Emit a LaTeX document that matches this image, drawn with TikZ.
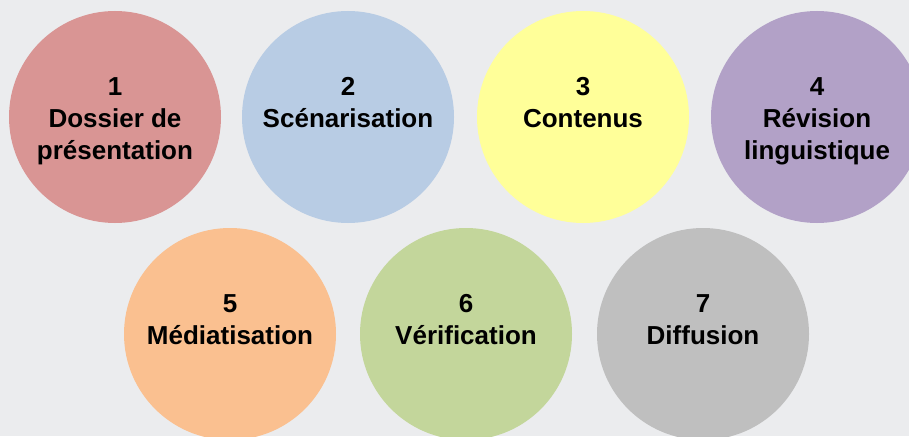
\documentclass[tikz,border=0pt]{standalone}
\usepackage{fontspec}
\setmainfont{Liberation Sans}
\definecolor{bgrey}{RGB}{235, 236, 238}
\definecolor{step1}{RGB}{217, 149, 148}
\definecolor{step2}{RGB}{184, 204, 228}
\definecolor{step3}{RGB}{255, 255, 153}
\definecolor{step4}{RGB}{178, 161, 199}
\definecolor{step5}{RGB}{250, 192, 144}
\definecolor{step6}{RGB}{195, 214, 155}
\definecolor{step7}{RGB}{191, 191, 191}
\usetikzlibrary{positioning}

\tikzset{
  stepdisc/.style={circle, minimum size=159pt, inner sep=0pt, draw=none},
  steptext/.style={anchor=north, inner sep=0pt, align=center,
    font=\fontsize{19.5}{24}\selectfont\bfseries, text=black}
}

\begin{document}
\begin{tikzpicture}[x=0.75pt, y=0.75pt]
  % Background
  \useasboundingbox (0,0) rectangle (909,436);
  \fill[bgrey] (0,0) rectangle (909,436);
  \clip (0,0) rectangle (909,436);

  % Top row
  \node[stepdisc, fill=step1] (c1) at (115,319) {};
  \node[stepdisc, fill=step2] (c2) at (348,319) {};
  \node[stepdisc, fill=step3] (c3) at (583,319) {};
  \node[stepdisc, fill=step4] (c4) at (817,319) {};

  % Bottom row
  \node[stepdisc, fill=step5] (c5) at (230,102) {};
  \node[stepdisc, fill=step6] (c6) at (466,102) {};
  \node[stepdisc, fill=step7] (c7) at (703,102) {};

  % Labels
  \node[steptext] (t1) at ([yshift=30pt]c1.center) {1\\Dossier de\\présentation};
  \node[steptext] (t2) at ([yshift=30pt]c2.center) {2\\Scénarisation};
  \node[steptext] (t3) at ([yshift=30pt]c3.center) {3\\Contenus};
  \node[steptext] (t4) at ([yshift=30pt]c4.center) {4\\Révision\\linguistique};
  \node[steptext] (t5) at ([yshift=30pt]c5.center) {5\\Médiatisation};
  \node[steptext] (t6) at ([yshift=30pt]c6.center) {6\\Vérification};
  \node[steptext] (t7) at ([yshift=30pt]c7.center) {7\\Diffusion};
\end{tikzpicture}
\end{document}
